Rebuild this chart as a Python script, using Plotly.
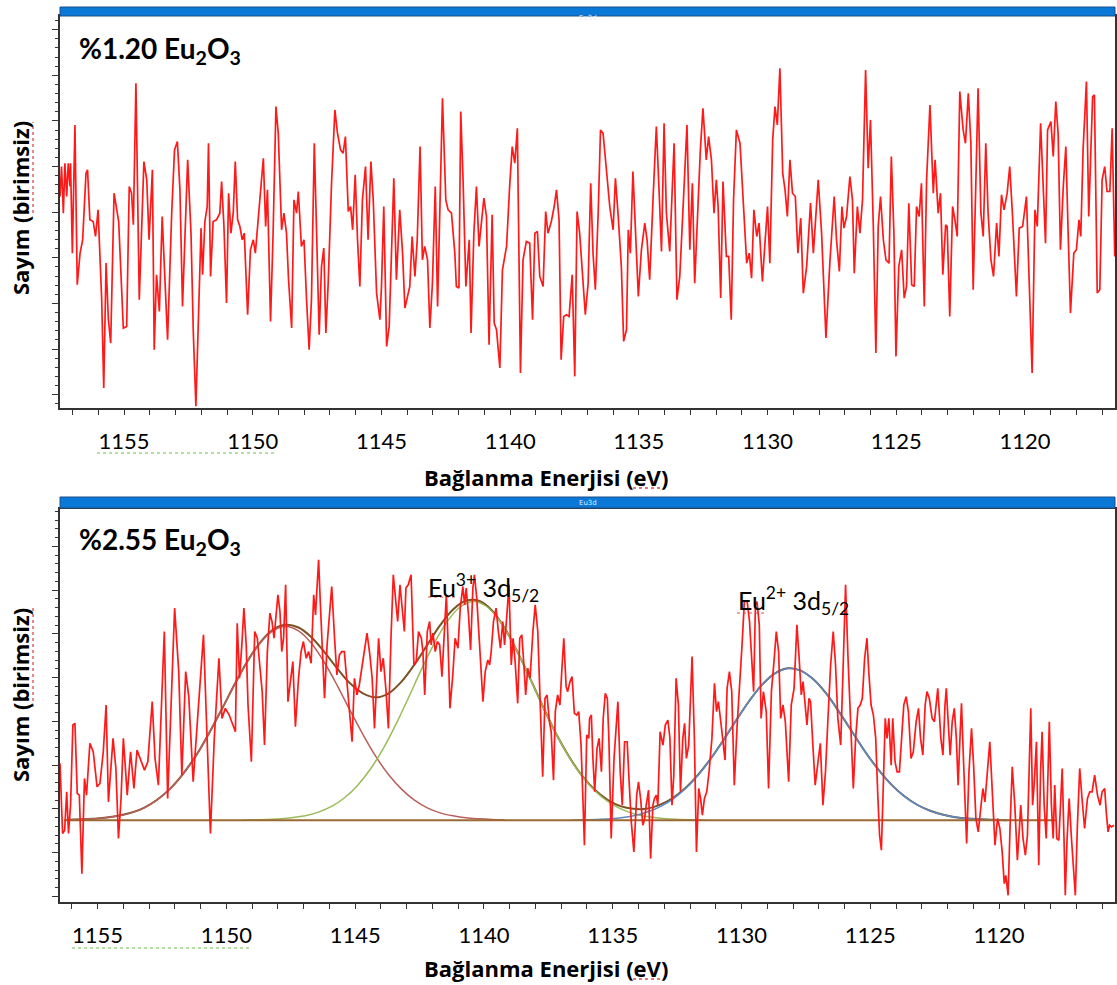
import plotly.graph_objects as go

W, H = 1117, 985

# ---------------- data: %1.20 Eu2O3 (top) ----------------
top_energy = [
1157.49,1157.43,1157.36,1157.30,1157.23,1157.17,1157.10,1157.08,1157.01,1156.91,1156.82,1156.71,1156.61,1156.48,1156.42,1156.33,1156.20,1156.11,1156.01,1155.94,
1155.87,1155.79,1155.70,1155.61,1155.52,1155.39,1155.21,1155.03,1154.90,1154.80,1154.71,1154.64,1154.54,1154.41,1154.23,1154.12,1154.03,1153.90,1153.83,1153.74,
1153.63,1153.52,1153.41,1153.31,1153.15,1153.04,1152.93,1152.83,1152.73,1152.53,1152.40,1152.31,1152.21,1152.08,1152.01,1151.95,1151.86,1151.77,1151.72,1151.64,
1151.54,1151.41,1151.28,1151.21,1151.12,1151.02,1150.94,1150.85,1150.76,1150.68,1150.59,1150.50,1150.41,1150.33,1150.20,1150.09,1149.98,1149.90,1149.79,1149.68,
1149.59,1149.50,1149.43,1149.31,1149.21,1149.10,1149.01,1148.88,1148.79,1148.69,1148.61,1148.49,1148.40,1148.30,1148.23,1148.11,1148.01,1147.91,1147.81,1147.72,
1147.61,1147.52,1147.42,1147.33,1147.24,1147.16,1147.07,1146.94,1146.81,1146.71,1146.59,1146.49,1146.40,1146.29,1146.20,1146.12,1146.02,1145.93,1145.84,1145.74,
1145.62,1145.52,1145.41,1145.32,1145.19,1145.06,1145.00,1144.91,1144.80,1144.70,1144.61,1144.52,1144.42,1144.29,1144.18,1144.09,1143.90,1143.81,1143.70,1143.61,
1143.50,1143.41,1143.32,1143.21,1143.12,1143.02,1142.91,1142.82,1142.63,1142.50,1142.41,1142.28,1142.15,1142.09,1141.99,1141.92,1141.83,1141.72,1141.59,1141.52,
1141.41,1141.31,1141.21,1141.13,1141.02,1140.92,1140.82,1140.70,1140.62,1140.53,1140.40,1140.30,1140.14,1140.02,1139.92,1139.82,1139.72,1139.60,1139.50,1139.37,
1139.24,1139.13,1139.04,1138.94,1138.85,1138.72,1138.62,1138.53,1138.40,1138.29,1138.20,1138.10,1138.02,1137.92,1137.81,1137.71,1137.59,1137.49,1137.40,1137.30,
1137.19,1137.08,1136.97,1136.87,1136.78,1136.69,1136.58,1136.49,1136.39,1136.26,1136.13,1136.00,1135.91,1135.81,1135.68,1135.59,1135.48,1135.41,1135.33,1135.23,
1135.13,1135.02,1134.90,1134.77,1134.68,1134.58,1134.45,1134.32,1134.21,1134.12,1134.02,1133.93,1133.80,1133.63,1133.52,1133.41,1133.28,1133.13,1133.02,1132.92,
1132.83,1132.70,1132.61,1132.51,1132.38,1132.29,1132.18,1132.08,1131.99,1131.92,1131.82,1131.73,1131.60,1131.51,1131.41,1131.32,1131.21,1131.07,1130.94,1130.81,
1130.71,1130.62,1130.53,1130.42,1130.33,1130.20,1130.10,1130.00,1129.91,1129.80,1129.71,1129.62,1129.52,1129.41,1129.32,1129.23,1129.13,1129.03,1128.92,1128.82,
1128.71,1128.61,1128.48,1128.33,1128.22,1128.03,1127.90,1127.73,1127.58,1127.41,1127.32,1127.21,1127.11,1127.03,1126.93,1126.80,1126.70,1126.63,1126.51,1126.41,
1126.31,1126.19,1126.09,1126.00,1125.89,1125.79,1125.70,1125.61,1125.50,1125.40,1125.28,1125.19,1125.09,1125.01,1124.90,1124.79,1124.69,1124.60,1124.51,1124.40,
1124.30,1124.21,1124.11,1124.02,1123.91,1123.82,1123.69,1123.56,1123.49,1123.37,1123.28,1123.19,1123.08,1123.02,1122.92,1122.81,1122.72,1122.63,1122.53,1122.40,
1122.31,1122.20,1122.10,1122.01,1121.91,1121.82,1121.71,1121.62,1121.52,1121.43,1121.32,1121.22,1121.10,1121.01,1120.91,1120.81,1120.69,1120.59,1120.48,1120.33,
1120.22,1120.09,1119.94,1119.83,1119.72,1119.61,1119.52,1119.39,1119.29,1119.20,1119.12,1118.99,1118.90,1118.80,1118.71,1118.62,1118.51,1118.41,1118.32,1118.23,
1118.10,1118.00,1117.90,1117.83,1117.74,1117.61,1117.52,1117.44,1117.37,1117.30,1117.19,1117.09,1117.00,1116.90,1116.81,1116.70,1116.61,1116.51]
top_counts = [
635,725,585,735,635,735,665,735,465,850,370,465,505,705,715,565,560,515,595,465,
325,60,435,265,195,645,560,240,245,665,645,550,975,325,740,685,505,715,175,400,
290,575,375,205,585,775,800,655,305,745,525,225,5,405,540,400,560,605,795,395,
560,565,585,680,545,315,645,525,585,740,565,545,505,525,280,475,505,465,565,685,
750,545,655,260,525,905,825,535,585,525,385,240,625,585,650,485,505,325,175,325,
795,525,220,425,480,225,375,675,895,825,775,765,815,590,605,535,700,505,365,625,
725,505,740,625,345,265,365,605,185,245,465,690,385,595,465,300,365,515,395,505,
785,445,485,445,240,375,665,305,930,625,595,585,465,365,360,890,685,365,505,225,
525,665,485,545,630,575,190,580,255,235,120,415,485,665,785,735,840,105,445,500,
495,265,525,530,395,365,590,525,560,605,655,565,145,275,280,275,400,95,590,525,
405,280,375,675,465,355,585,835,825,725,605,535,690,585,425,200,235,535,465,710,
525,335,475,555,505,385,625,845,645,470,855,585,470,795,325,395,605,850,475,675,
375,625,775,900,745,815,745,585,685,605,330,680,455,455,265,625,835,795,625,435,
465,390,595,515,555,380,495,605,435,805,905,850,1020,705,655,575,745,645,635,465,
570,345,425,615,465,685,525,210,435,635,505,410,605,540,575,695,625,405,605,525,
625,1015,720,865,545,165,545,635,505,445,435,755,525,155,425,475,330,365,615,370,
365,605,575,675,305,685,910,645,745,585,645,400,550,545,275,605,565,515,950,835,
795,945,795,355,665,960,585,515,795,585,445,395,555,455,640,595,645,725,575,335,
540,545,635,385,105,595,545,855,665,495,835,860,755,920,825,475,665,785,525,285,
465,475,565,515,775,980,575,785,935,940,345,355,685,725,650,650,840,455]

# ---------------- data: %2.55 Eu2O3 (bottom) ----------------
bot_energy = [
1156.46,1156.36,1156.28,1156.20,1156.13,1156.05,1155.96,1155.88,1155.79,1155.71,1155.61,1155.51,1155.43,1155.30,1155.17,1155.02,1154.91,1154.78,1154.67,1154.58,
1154.40,1154.29,1154.19,1154.09,1154.00,1153.85,1153.72,1153.59,1153.47,1153.34,1153.18,1153.05,1152.88,1152.77,1152.64,1152.41,1152.28,1152.01,1151.85,1151.73,
1151.58,1151.46,1151.29,1150.89,1150.75,1150.62,1150.47,1150.29,1150.17,1150.04,1149.89,1149.77,1149.65,1149.58,1149.49,1149.40,1149.32,1149.23,1149.16,1149.03,
1148.90,1148.80,1148.71,1148.61,1148.52,1148.41,1148.31,1148.23,1148.15,1148.09,1148.00,1147.92,1147.85,1147.78,1147.70,1147.61,1147.51,1147.42,1147.32,1147.20,
1147.10,1147.01,1146.90,1146.81,1146.71,1146.61,1146.54,1146.42,1146.35,1146.30,1146.19,1146.09,1146.00,1145.91,1145.80,1145.71,1145.61,1145.52,1145.42,1145.33,
1145.22,1145.12,1145.03,1144.93,1144.84,1144.71,1144.54,1144.43,1144.34,1144.25,1144.15,1144.09,1144.00,1143.91,1143.80,1143.71,1143.61,1143.52,1143.41,1143.35,
1143.26,1143.18,1143.09,1143.03,1142.94,1142.83,1142.72,1142.63,1142.54,1142.43,1142.37,1142.30,1142.20,1142.11,1142.05,1141.98,1141.89,1141.81,1141.72,1141.63,
1141.55,1141.46,1141.40,1141.32,1141.21,1141.12,1141.01,1140.92,1140.82,1140.75,1140.69,1140.60,1140.52,1140.43,1140.37,1140.28,1140.17,1140.04,1139.95,1139.85,
1139.78,1139.72,1139.63,1139.53,1139.44,1139.36,1139.27,1139.20,1139.11,1139.03,1138.94,1138.87,1138.79,1138.69,1138.61,1138.53,1138.45,1138.38,1138.30,1138.21,
1138.10,1138.01,1137.91,1137.81,1137.72,1137.63,1137.55,1137.46,1137.39,1137.30,1137.23,1137.14,1137.05,1136.98,1136.90,1136.81,1136.75,1136.66,1136.58,1136.49,
1136.40,1136.32,1136.23,1136.15,1136.10,1136.01,1135.93,1135.90,1135.83,1135.77,1135.70,1135.61,1135.53,1135.44,1135.37,1135.29,1135.21,1135.15,1135.06,1134.95,
1134.89,1134.80,1134.71,1134.63,1134.54,1134.44,1134.37,1134.28,1134.18,1134.07,1134.00,1133.92,1133.83,1133.76,1133.70,1133.61,1133.53,1133.44,1133.38,1133.31,
1133.25,1133.16,1133.05,1132.96,1132.86,1132.78,1132.70,1132.63,1132.54,1132.45,1132.37,1132.28,1132.21,1132.14,1132.05,1131.98,1131.92,1131.83,1131.75,1131.66,
1131.59,1131.52,1131.44,1131.35,1131.26,1131.15,1131.05,1130.97,1130.90,1130.82,1130.73,1130.64,1130.56,1130.47,1130.38,1130.28,1130.17,1130.08,1129.98,1129.89,
1129.78,1129.69,1129.60,1129.53,1129.46,1129.40,1129.31,1129.24,1129.15,1129.04,1128.95,1128.84,1128.74,1128.65,1128.56,1128.48,1128.39,1128.30,1128.17,1128.07,
1127.96,1127.85,1127.77,1127.68,1127.61,1127.55,1127.46,1127.38,1127.32,1127.23,1127.14,1127.03,1126.94,1126.84,1126.74,1126.65,1126.54,1126.44,1126.35,1126.26,
1126.15,1126.06,1125.96,1125.87,1125.77,1125.66,1125.57,1125.48,1125.39,1125.31,1125.22,1125.13,1125.06,1124.97,1124.88,1124.79,1124.71,1124.64,1124.57,1124.49,
1124.42,1124.35,1124.28,1124.19,1124.13,1124.04,1123.96,1123.87,1123.78,1123.70,1123.61,1123.52,1123.42,1123.33,1123.22,1123.13,1123.05,1122.96,1122.87,1122.80,
1122.71,1122.60,1122.51,1122.45,1122.38,1122.26,1122.18,1122.10,1122.05,1121.97,1121.90,1121.82,1121.74,1121.66,1121.59,1121.52,1121.46,1121.38,1121.33,1121.26,
1121.17,1121.07,1120.99,1120.90,1120.81,1120.71,1120.63,1120.55,1120.45,1120.36,1120.27,1120.16,1120.06,1119.97,1119.88,1119.80,1119.74,1119.65,1119.58,1119.49,
1119.39,1119.29,1119.22,1119.16,1119.07,1118.98,1118.90,1118.83,1118.77,1118.70,1118.64,1118.55,1118.46,1118.39,1118.33,1118.25,1118.17,1118.10,1118.05,1117.97,
1117.90,1117.84,1117.76,1117.68,1117.61,1117.55,1117.48,1117.43,1117.36,1117.28,1117.19,1117.11,1117.04,1116.96,1116.87,1116.78,1116.68,1116.57,1116.48,1116.39,
1116.29,1116.18,1116.08,1116.00,1115.90,1115.84,1115.77,1115.71,1115.64,1115.54]
bot_counts = [
415,205,215,330,205,290,530,535,325,320,85,370,320,475,450,345,355,450,590,300,
490,400,190,310,490,320,450,340,455,425,395,420,600,430,350,810,310,880,690,380,
690,615,360,800,490,205,490,730,550,580,560,535,510,835,670,770,880,770,590,420,
810,790,710,630,470,750,865,840,790,840,920,870,750,790,950,600,670,720,525,670,
750,780,730,750,715,920,860,1025,890,790,610,770,860,945,790,680,740,750,750,670,
550,480,670,620,650,720,805,740,670,520,710,790,690,730,630,520,790,980,890,840,
950,890,810,940,950,980,710,720,810,790,750,620,810,840,770,805,750,780,770,675,
790,920,790,580,680,790,760,880,945,890,940,860,755,940,980,910,770,600,690,725,
710,750,840,880,810,760,840,770,860,950,710,790,720,595,790,800,710,620,700,670,
810,890,810,590,375,610,620,540,510,365,570,620,590,690,790,645,630,660,675,565,
560,570,470,290,170,500,490,550,560,430,330,460,490,390,550,625,610,490,190,430,
510,600,390,290,480,480,370,240,150,320,360,310,230,250,290,335,130,290,310,320,
290,510,470,530,545,490,290,380,670,590,330,490,535,430,470,590,735,490,150,340,
310,260,310,330,390,490,655,570,600,550,490,425,640,690,630,350,530,630,770,900,
900,840,710,630,890,900,830,550,630,570,340,630,720,810,750,550,590,540,360,590,
640,830,740,620,660,610,530,610,600,470,350,420,475,290,390,540,710,810,710,550,
470,690,950,740,530,340,490,580,590,610,730,790,690,590,560,490,320,200,155,370,
550,490,550,410,550,420,390,390,510,590,615,570,430,450,540,580,490,440,590,630,
610,550,540,590,640,490,440,590,640,530,440,540,580,490,350,490,595,420,290,175,
390,520,410,250,210,290,340,300,390,480,340,170,250,220,150,55,80,20,210,405,
290,125,210,290,190,140,200,390,580,290,350,480,110,390,510,290,190,390,540,290,
190,350,190,185,290,400,190,20,190,310,190,110,20,230,400,310,220,310,330,330,
380,320,290,330,340,270,210,230,225,230]

# ---------------- peak-fit components ----------------
baseline_energy = [1156.3, 1117.8]
baseline_counts = [245, 245]

eu3_left_energy = [1156.2,1155.7,1155.2,1154.7,1154.2,1153.7,1153.2,1152.7,1152.2,1151.7,1151.2,1150.7,1150.2,1149.7,1149.2,1148.7,1148.2,1147.7,
                   1147.2,1146.7,1146.2,1145.7,1145.2,1144.7,1144.2,1143.7,1143.2,1142.7,1142.2,1141.7,1141.2,1140.7,1140.2,1139.7,1139.2]
eu3_left_counts = [246,247,249,252,258,267,282,305,338,381,436,502,574,649,718,775,812,825,
                   812,775,718,649,574,502,436,381,338,305,282,267,258,252,249,247,246]

eu3_energy = [1149.4,1148.9,1148.4,1147.9,1147.4,1146.9,1146.4,1145.9,1145.4,1144.9,1144.4,1143.9,1143.4,1142.9,1142.4,1141.9,1141.4,1140.9,1140.4,
              1139.9,1139.4,1138.9,1138.4,1137.9,1137.4,1136.9,1136.4,1135.9,1135.4,1134.9,1134.4,1133.9,1133.4,1132.9,1132.4,1131.9,1131.4]
eu3_counts = [245,246,247,249,253,259,270,287,313,350,399,461,535,617,701,779,843,885,900,
              885,843,779,701,617,535,461,399,350,313,287,270,259,253,249,247,246,245]

eu2_energy = [1136.6,1136.1,1135.6,1135.1,1134.6,1134.1,1133.6,1133.1,1132.6,1132.1,1131.6,1131.1,1130.6,1130.1,1129.6,1129.1,1128.6,1128.1,
              1127.6,1127.1,1126.6,1126.1,1125.6,1125.1,1124.6,1124.1,1123.6,1123.1,1122.6,1122.1,1121.6,1121.1,1120.6,1120.1,1119.6]
eu2_counts = [245,246,247,249,253,260,271,288,312,345,388,439,497,557,613,659,689,700,
              689,659,613,557,497,439,388,345,312,288,271,260,253,249,247,246,245]

envelope_energy = [1156.2,1155.2,1154.2,1153.2,1152.2,1151.2,1150.2,
    1149.7,1149.2,1148.7,1148.2,1147.7,1147.2,1146.7,1146.2,1145.7,1145.2,1144.7,1144.2,1143.7,1143.2,1142.7,1142.2,1141.7,1141.2,1140.7,1140.2,
    1139.7,1139.2,1138.7,1138.2,1137.7,1137.2,1136.7,1136.2,1135.7,1135.2,1134.7,1134.2,1133.7,1133.2,1132.7,1132.2,1131.7,1131.2,1130.7,1130.2,
    1129.7,1129.2,1128.7,1128.2,1127.7,1127.2,1126.7,1126.2,1125.7,1125.2,1124.7,1124.2,1123.7,1123.2,1122.7,1122.2,1121.7,1121.2,1120.7,1120.2,1119.7]
envelope_counts = [246,249,258,282,338,436,574,
    649,719,776,815,830,822,793,749,700,655,625,613,625,660,711,770,829,876,902,902,
    874,821,749,668,584,504,436,379,336,306,287,279,279,290,310,340,380,429,485,545,
    602,651,685,700,693,666,623,568,509,450,398,353,318,292,274,262,254,250,248,246,245]

x_tick_values = [1155, 1150, 1145, 1140, 1135, 1130, 1125, 1120]
panel_labels = ["%1.20 Eu<sub>2</sub>O<sub>3</sub>", "%2.55 Eu<sub>2</sub>O<sub>3</sub>"]
peak_labels = ["Eu<sup>3+</sup> 3d<sub>5/2</sub>", "Eu<sup>2+</sup> 3d<sub>5/2</sub>"]
x_title = "Bağlanma Enerjisi (eV)"
y_title = "Sayım (birimsiz)"
bar_title = "Eu3d"

# ---------------- figure ----------------
def px(x):
    return x / W

def py(y):
    return 1 - y / H

FONT = "Lato, 'Open Sans', sans-serif"
TFONT = "'Open Sans', Lato, sans-serif"
RED = "#ff1a1a"

fig = go.Figure()

def add_line(x, y, color, width, xa, ya, shape="linear"):
    fig.add_trace(go.Scatter(x=x, y=y, mode="lines", xaxis=xa, yaxis=ya,
                             line=dict(color=color, width=width, shape=shape),
                             hoverinfo="skip", showlegend=False))

# top panel
add_line(top_energy, top_counts, RED, 1.7, "x", "y")
# bottom panel: fit curves under data
add_line(envelope_energy, envelope_counts, "#7a5326", 2.0, "x2", "y2", "spline")
add_line(eu3_left_energy, eu3_left_counts, "#b8605b", 1.5, "x2", "y2", "spline")
add_line(eu3_energy, eu3_counts, "#9bbb59", 1.5, "x2", "y2", "spline")
add_line(eu2_energy, eu2_counts, "#5b8ac4", 1.6, "x2", "y2", "spline")
add_line(baseline_energy, baseline_counts, "#9a6a32", 2.0, "x2", "y2")
add_line(bot_energy, bot_counts, RED, 1.7, "x2", "y2")

top_dom_y = [py(408), py(16)]
bot_dom_y = [py(902), py(509)]
dom_x = [px(60), px(1115)]

def xaxis_cfg(rng, anchor):
    return dict(domain=dom_x, range=rng, anchor=anchor,
                showline=True, mirror=True, linecolor="#333333", linewidth=1.5,
                showgrid=False, zeroline=False,
                ticks="outside", ticklen=5, tickcolor="#333333", tickwidth=1,
                tickmode="array", tickvals=x_tick_values,
                minor=dict(dtick=1, tick0=1155, ticks="outside", ticklen=5,
                           tickcolor="#333333", tickwidth=1, showgrid=False),
                tickfont=dict(family=FONT, size=22, color="#000000"),
                ticklabelstandoff=8)

def yaxis_cfg(dom, anchor, t0, dt):
    return dict(domain=dom, range=[0, 1177], anchor=anchor,
                showline=True, mirror=True, linecolor="#333333", linewidth=1.5,
                showgrid=False, zeroline=False, showticklabels=False,
                ticks="outside", ticklen=6, tickcolor="#333333", tick0=t0, dtick=dt,
                minor=dict(dtick=dt / 5, tick0=t0, ticks="outside", ticklen=3,
                           tickcolor="#333333", showgrid=False))

fig.update_layout(
    width=W, height=H, margin=dict(l=0, r=0, t=0, b=0),
    paper_bgcolor="white", plot_bgcolor="white",
    xaxis=xaxis_cfg([1157.49, 1116.5], "y"),
    yaxis=yaxis_cfg(top_dom_y, "x", 40, 137),
    xaxis2=xaxis_cfg([1156.46, 1115.5], "y2"),
    yaxis2=yaxis_cfg(bot_dom_y, "x2", 17, 131),
    showlegend=False,
)

shapes = []
annotations = []
for (bar_top, bar_bot, title_y, ytitle_y) in [(7, 16, 477, 208), (497, 508, 968, 695)]:
    shapes.append(dict(type="rect", xref="paper", yref="paper",
                       x0=px(60), x1=px(1115), y0=py(bar_bot), y1=py(bar_top),
                       fillcolor="#0a78d6", line=dict(color="#1a4f8a", width=1), layer="above"))
    annotations.append(dict(text=bar_title, xref="paper", yref="paper", x=px(588), y=py((bar_top + bar_bot) / 2),
                            showarrow=False, font=dict(family="DejaVu Sans", size=7, color="#dfefff")))
    annotations.append(dict(text="<b>" + x_title + "</b>", xref="paper", yref="paper",
                            x=px(546), y=py(title_y), xanchor="center", yanchor="middle", showarrow=False,
                            font=dict(family=TFONT, size=22, color="#000000")))
    annotations.append(dict(text="<b>" + y_title + "</b>", xref="paper", yref="paper",
                            x=px(20), y=py(ytitle_y), xanchor="center", yanchor="middle", textangle=-90,
                            showarrow=False, font=dict(family=TFONT, size=22, color="#000000")))

# spell-check style underlines from the source document
for gx0, gx1, gy in [(97, 276, 453), (72, 252, 948)]:
    shapes.append(dict(type="line", xref="paper", yref="paper", x0=px(gx0), x1=px(gx1), y0=py(gy), y1=py(gy),
                       line=dict(color="#6cc24a", width=1.2, dash="dot")))
for ry0, ry1 in [(122, 213), (608, 707)]:
    shapes.append(dict(type="line", xref="paper", yref="paper", x0=px(33), x1=px(33), y0=py(ry1), y1=py(ry0),
                       line=dict(color="#e04848", width=1.3, dash="dot")))
for ey in [488, 979]:
    shapes.append(dict(type="line", xref="paper", yref="paper", x0=px(633), x1=px(662), y0=py(ey), y1=py(ey),
                       line=dict(color="#e04848", width=1.3, dash="dot")))
shapes.append(dict(type="line", xref="paper", yref="paper", x0=px(428), x1=px(455), y0=py(597), y1=py(597),
                   line=dict(color="#e04848", width=1.2, dash="dot")))
shapes.append(dict(type="line", xref="paper", yref="paper", x0=px(737), x1=px(765), y0=py(613), y1=py(613),
                   line=dict(color="#e04848", width=1.2, dash="dot")))

annotations.append(dict(text="<b>" + panel_labels[0] + "</b>", xref="paper", yref="paper",
                        x=px(77), y=py(50), xanchor="left", yanchor="middle", showarrow=False,
                        font=dict(family=FONT, size=28, color="#000000")))
annotations.append(dict(text="<b>" + panel_labels[1] + "</b>", xref="paper", yref="paper",
                        x=px(77), y=py(541), xanchor="left", yanchor="middle", showarrow=False,
                        font=dict(family=FONT, size=28, color="#000000")))
annotations.append(dict(text=peak_labels[0], xref="paper", yref="paper",
                        x=px(426), y=py(587), xanchor="left", yanchor="middle", showarrow=False,
                        font=dict(family=FONT, size=25, color="#000000")))
annotations.append(dict(text=peak_labels[1], xref="paper", yref="paper",
                        x=px(736), y=py(600), xanchor="left", yanchor="middle", showarrow=False,
                        font=dict(family=FONT, size=25, color="#000000")))

fig.update_layout(shapes=shapes, annotations=annotations)
fig.write_html("out.html", config={"displayModeBar": False},
               post_script="document.body.style.margin='0';")
